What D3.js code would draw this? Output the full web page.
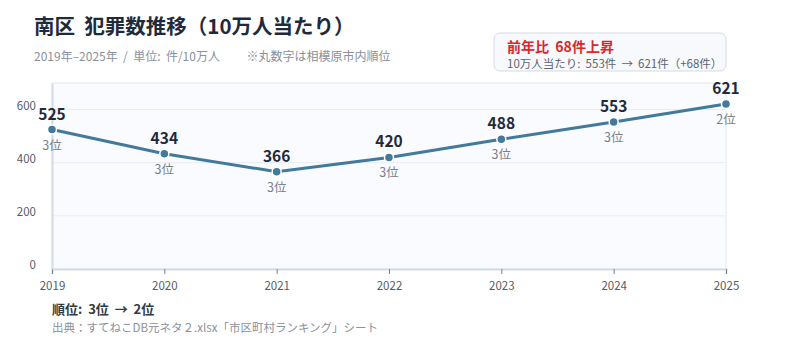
<!DOCTYPE html>
<meta charset="utf-8">
<style>
	body { margin: 0; background: #fff; font-family: "Noto Sans CJK JP", "Noto Sans", sans-serif; }
	text { font-family: "Noto Sans CJK JP", "Noto Sans", sans-serif; white-space: pre; }
</style>
<body>
<svg id="chart" width="800" height="347"></svg>
<script src="https://d3js.org/d3.v7.min.js"></script>
<script>
	var years = [2019, 2020, 2021, 2022, 2023, 2024, 2025];
	var values = [525, 434, 366, 420, 488, 553, 621];
	var ranks = [3, 3, 3, 3, 3, 3, 2];
	var yTicks = [0, 200, 400, 600];

	var svg = d3.select("#chart"),
	margin = {top: 83, right: 74, bottom: 78, left: 52},
	width = +svg.attr("width"),
	height = +svg.attr("height"),
	w = width - margin.left - margin.right,
	h = height - margin.top - margin.bottom;

	var x = d3.scalePoint().domain(years).range([0, w]);
	var y = d3.scaleLinear().domain([0, 700]).range([h, 0]);

	// titles
	svg.append("text").attr("x", 34).attr("y", 34)
		.attr("font-size", 20.5).attr("font-weight", "bold").attr("fill", "#1f2b3b")
		.text("南区  犯罪数推移（10万人当たり）");
	svg.append("text").attr("x", 34).attr("y", 61)
		.attr("font-size", 12).attr("fill", "#8a909c")
		.text("2019年–2025年  /  単位:  件/10万人\u3000\u3000 ※丸数字は相模原市内順位");

	// summary box
	svg.append("rect").attr("x", 494).attr("y", 33).attr("width", 232).attr("height", 38)
		.attr("rx", 6).attr("fill", "#f8f9fc").attr("stroke", "#d3dae5");
	svg.append("text").attr("x", 507).attr("y", 52)
		.attr("font-size", 14).attr("font-weight", "bold").attr("fill", "#d7282d")
		.text("前年比  " + (values[6] - values[5]) + "件上昇");
	svg.append("text").attr("x", 507).attr("y", 68)
		.attr("font-size", 11.5).attr("fill", "#5c6470")
		.text("10万人当たり:  " + values[5] + "件  →  " + values[6] + "件（+" + (values[6] - values[5]) + "件）");

	var g = svg.append("g").attr("transform", "translate(" + margin.left + "," + margin.top + ")");

	g.append("rect").attr("width", w).attr("height", h)
		.attr("fill", "#f9fbfe").attr("stroke", "#e3e8f0");

	g.selectAll(".grid").data(yTicks.slice(1)).enter().append("line")
		.attr("x1", 0).attr("x2", w)
		.attr("y1", function(d) { return y(d); }).attr("y2", function(d) { return y(d); })
		.attr("stroke", "#e8ecf2");

	// axes
	var xAxis = g.append("g").attr("transform", "translate(0," + h + ")")
		.call(d3.axisBottom(x).tickSize(5).tickPadding(8));
	xAxis.select(".domain").attr("stroke", "#d5dbe5").attr("stroke-width", 2);
	xAxis.selectAll(".tick line").attr("stroke", "#7a808a");
	xAxis.selectAll("text").attr("font-size", 11.5).attr("fill", "#555c66");

	var yAxis = g.append("g")
		.call(d3.axisLeft(y).tickValues(yTicks).tickSize(0).tickPadding(16));
	yAxis.select(".domain").attr("stroke", "#d5dbe5").attr("stroke-width", 2);
	yAxis.selectAll("text").attr("font-size", 11.5).attr("fill", "#555c66").attr("dy", "-0.05em");

	var pts = years.map(function(d, i) { return {year: d, v: values[i], r: ranks[i]}; });

	g.append("path").datum(pts)
		.attr("fill", "none").attr("stroke", "#43799b").attr("stroke-width", 3)
		.attr("d", d3.line().x(function(d) { return x(d.year); }).y(function(d) { return y(d.v); }));

	g.selectAll(".dot").data(pts).enter().append("circle")
		.attr("cx", function(d) { return x(d.year); }).attr("cy", function(d) { return y(d.v); })
		.attr("r", 4.5).attr("fill", "#43799b").attr("stroke", "#fff").attr("stroke-width", 1.5);

	g.selectAll(".val").data(pts).enter().append("text")
		.attr("x", function(d) { return x(d.year); }).attr("y", function(d) { return y(d.v) - 10; })
		.attr("text-anchor", "middle").attr("font-size", 15.5).attr("font-weight", "bold").attr("fill", "#1f2b3b")
		.text(function(d) { return d.v; });

	g.selectAll(".rank").data(pts).enter().append("text")
		.attr("x", function(d) { return x(d.year); }).attr("y", function(d) { return y(d.v) + 20; })
		.attr("text-anchor", "middle").attr("font-size", 12.5).attr("fill", "#7a808c")
		.text(function(d) { return d.r + "位"; });

	// footer
	svg.append("text").attr("x", 52).attr("y", 314)
		.attr("font-size", 13).attr("font-weight", "bold").attr("fill", "#333a44")
		.text("順位:  " + ranks[0] + "位  →  " + ranks[6] + "位");
	svg.append("text").attr("x", 52).attr("y", 332)
		.attr("font-size", 11.5).attr("fill", "#8a909c")
		.text("出典：すてねこDB元ネタ２.xlsx「市区町村ランキング」シート");
</script>
</body>
